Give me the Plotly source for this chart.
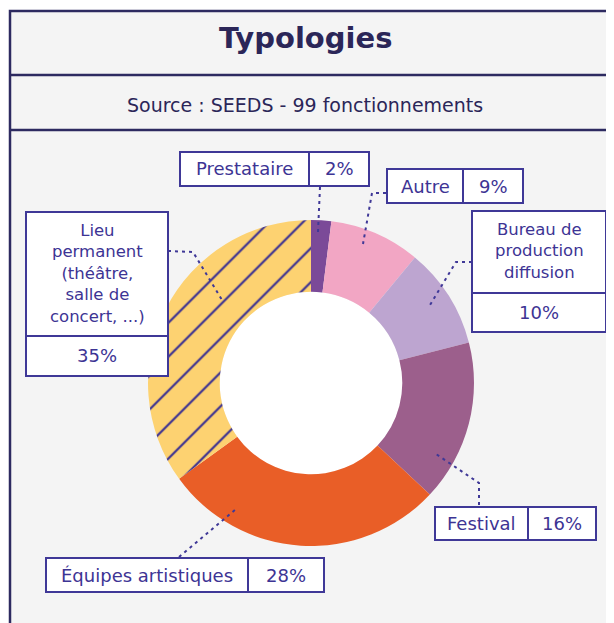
import plotly.graph_objects as go

# data
labels = ['Prestataire', 'Autre', 'Bureau de production diffusion', 'Festival',
          'Équipes artistiques', 'Lieu permanent (théâtre, salle de concert, ...)']
values = [2, 9, 10, 16, 28, 35]
colors = ['#7b4a98', '#f2a6c4', '#bda5d0', '#9c5f8c', '#e95e27', '#fdd271']
patterns = ['', '', '', '', '', '/']
title = 'Typologies'
source = 'Source : SEEDS - 99 fonctionnements'

W, H = 614, 623
OFF = 8  # page body margin
NAVY = '#2d2a60'
INK = '#3d3494'
BOX = '#3f3897'
FONT = 'DejaVu Sans'

def px(x):
    return (x - OFF) / W

def py(y):
    return 1 - (y - OFF) / H

# donut position (pixels)
cx, cy, R, hole = 311, 383, 163, 0.56

fig = go.Figure()
fig.add_trace(go.Pie(
    labels=labels, values=values, sort=False, direction='clockwise', rotation=0,
    hole=hole, textinfo='none', hoverinfo='label+percent', showlegend=False,
    marker=dict(colors=colors, line=dict(width=0),
                pattern=dict(shape=patterns, fgcolor='#3a3092', bgcolor=colors,
                             size=24, solidity=0.09)),
    domain=dict(x=[px(cx - R), px(cx + R)], y=[py(cy + R), py(cy - R)])
))

shapes = []
annotations = []

# frame
shapes.append(dict(type='rect', xref='paper', yref='paper', layer='below',
                   x0=px(10), x1=px(660), y0=py(11), y1=py(680),
                   fillcolor='#f4f4f4', line=dict(color=NAVY, width=2.5)))
for yy in [75, 130]:
    shapes.append(dict(type='line', xref='paper', yref='paper', layer='below',
                       x0=px(10), x1=px(660), y0=py(yy), y1=py(yy),
                       line=dict(color=NAVY, width=2.5)))
# white hole
rin = R * hole
shapes.append(dict(type='circle', xref='paper', yref='paper', layer='below',
                   x0=px(cx - rin), x1=px(cx + rin), y0=py(cy + rin), y1=py(cy - rin),
                   fillcolor='white', line=dict(width=0)))

def txt(s, x, y, size=18, color=INK):
    annotations.append(dict(text=s, x=px(x), y=py(y), xref='paper', yref='paper',
                            xanchor='center', yanchor='middle', showarrow=False,
                            font=dict(family=FONT, size=size, color=color)))

txt('<b>' + title + '</b>', 305, 38, 29, '#2b2658')
txt(source, 305, 105, 19, '#2b2658')

# callout boxes: label text, geometry (left, top, divider, right, bottom)
pct = ['%d%%' % v for v in values]
horiz = {
    0: ('Prestataire', (180, 152, 309, 369, 186)),
    1: ('Autre', (387, 169, 463, 523, 203)),
    3: ('Festival', (435, 507, 528, 596, 540)),
    4: ('Équipes artistiques', (46, 558, 248, 324, 592)),
}
vert = {
    2: ('Bureau de<br>production<br>diffusion', (472, 211, 293, 606, 332)),
    5: ('Lieu<br>permanent<br>(théâtre,<br>salle de<br>concert, ...)', (26, 212, 336, 168, 376)),
}
leaders = {
    0: [(320, 187), (318, 232)],
    1: [(386, 193), (372, 193), (363, 244)],
    2: [(472, 262), (456, 262), (430, 305)],
    3: [(479, 505), (479, 483), (436, 454)],
    4: [(179, 557), (236, 509)],
    5: [(168, 251), (193, 252), (222, 300)],
}

for i, pts in leaders.items():
    path = 'M ' + ' L '.join('%f %f' % (px(a), py(b)) for a, b in pts)
    shapes.append(dict(type='path', xref='paper', yref='paper', layer='above', path=path,
                       line=dict(color=BOX, width=2, dash='3px,4px')))

def box(x0, y0, x1, y1):
    shapes.append(dict(type='rect', xref='paper', yref='paper', layer='above',
                       x0=px(x0), x1=px(x1), y0=py(y1), y1=py(y0),
                       fillcolor='white', line=dict(color=BOX, width=2)))

for i, (lab, (l, t, d, r, b)) in horiz.items():
    box(l, t, d, b)
    box(d, t, r, b)
    txt(lab, (l + d) / 2, (t + b) / 2)
    txt(pct[i], (d + r) / 2, (t + b) / 2)

for i, (lab, (l, t, d, r, b)) in vert.items():
    box(l, t, r, d)
    box(l, d, r, b)
    txt(lab, (l + r) / 2, (t + d) / 2 - 1, 16.5)
    txt(pct[i], (l + r) / 2, (d + b) / 2)

fig.update_layout(width=W, height=H, margin=dict(l=0, r=0, t=0, b=0),
                  paper_bgcolor='white', plot_bgcolor='white',
                  shapes=shapes, annotations=annotations)
fig.write_html('out.html')
